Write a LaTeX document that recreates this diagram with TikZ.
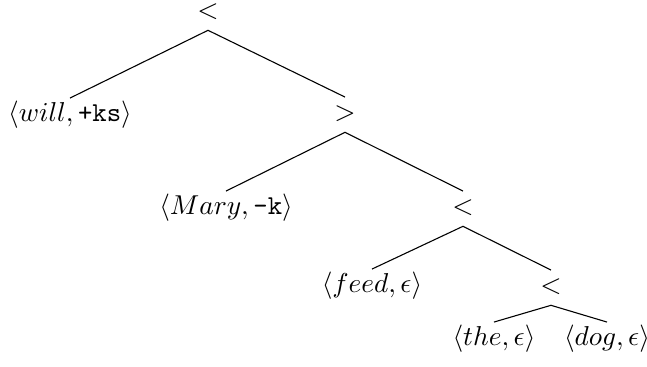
\documentclass[tikz,border=0pt]{standalone}
\begin{document}
\begin{tikzpicture}[x=0.366pt,y=-0.366pt,
  lab/.style={inner sep=1pt,text height=7.5pt,text depth=2.5pt},
  edge/.style={line width=0.4pt}]
\useasboundingbox (0,0) rectangle (647,367);
\node[lab] (root) at (208,12) {$<$};
\node[lab] (will) at (70,115) {$\langle will, \texttt{+ks}\rangle$};
\node[lab] (gt) at (345,114) {$>$};
\node[lab] (mary) at (226,208) {$\langle Mary, \texttt{-k}\rangle$};
\node[lab] (lt2) at (463,208) {$<$};
\node[lab] (feed) at (372,286) {$\langle feed, \epsilon\rangle$};
\node[lab] (lt3) at (551,287) {$<$};
\node[lab] (the) at (494,339) {$\langle the, \epsilon\rangle$};
\node[lab] (dog) at (607,339) {$\langle dog, \epsilon\rangle$};
\coordinate (a1) at ([yshift=-0.5pt]root.south);
\coordinate (a2) at ([yshift=-0.5pt]gt.south);
\coordinate (a3) at ([yshift=-0.5pt]lt2.south);
\coordinate (a4) at ([yshift=-0.5pt]lt3.south);
\draw[edge] (will.north) -- (a1) -- (gt.north);
\draw[edge] (mary.north) -- (a2) -- (lt2.north);
\draw[edge] (feed.north) -- (a3) -- (lt3.north);
\draw[edge] (the.north) -- (a4) -- (dog.north);
\end{tikzpicture}
\end{document}
